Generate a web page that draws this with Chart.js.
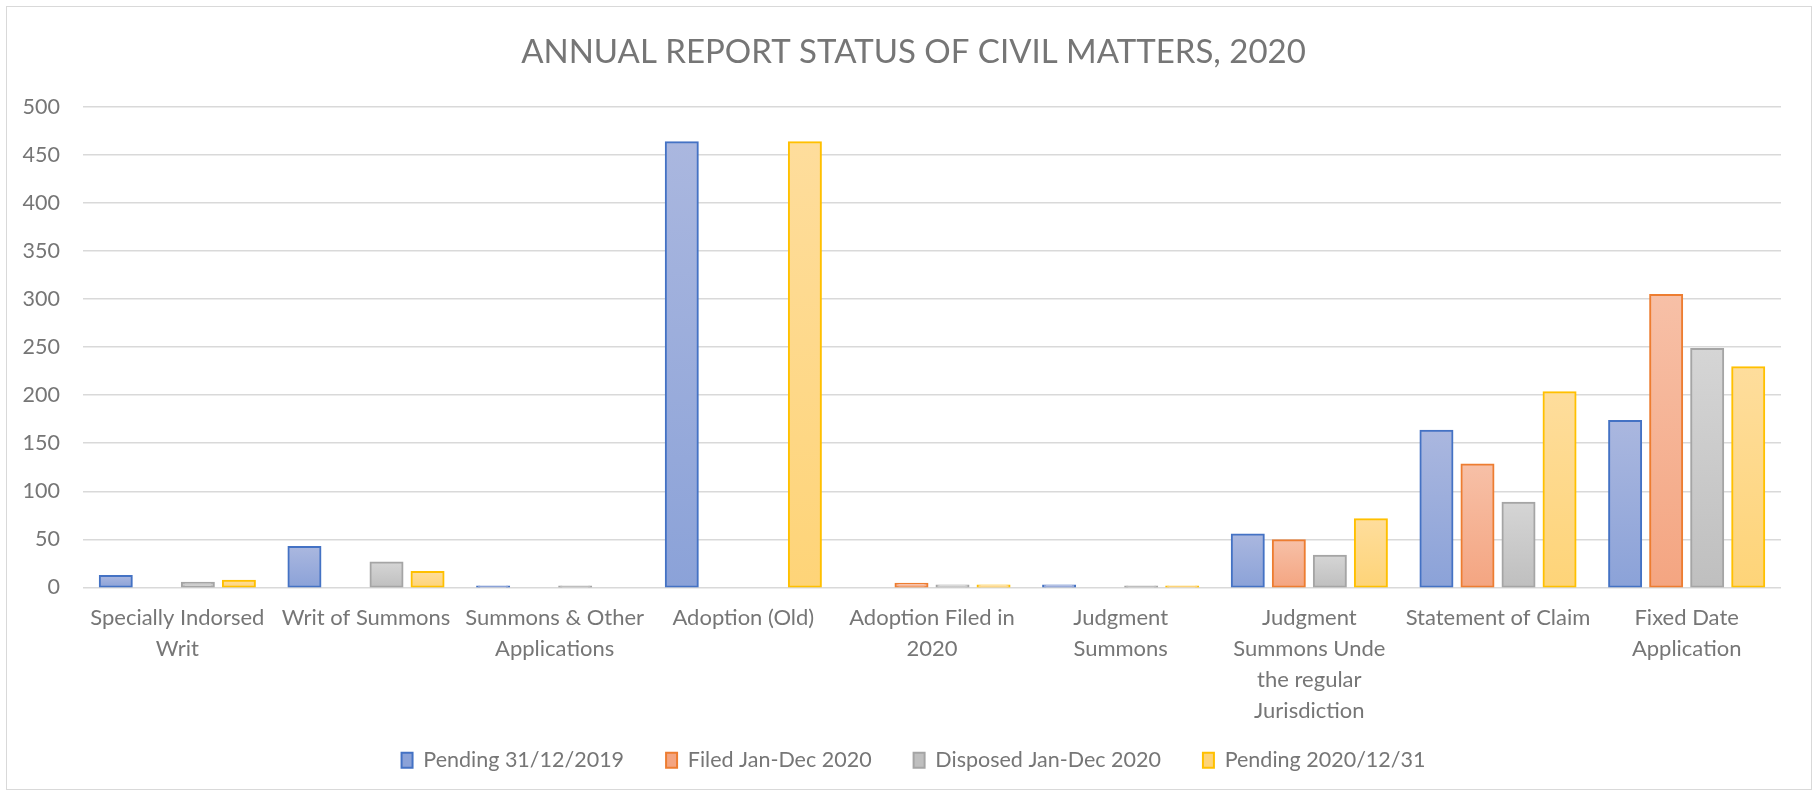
<!DOCTYPE html>
<html>
<head>
<meta charset="utf-8">
<script src="https://cdn.jsdelivr.net/npm/chart.js@4.4.1/dist/chart.umd.min.js"></script>
<style>
  html, body { margin: 0; padding: 0; background: #ffffff; }
  #wrap { position: relative; width: 1813px; height: 795px; }
  #frame { position: absolute; left: 6px; top: 6px; width: 1804px; height: 782px; border: 1px solid #d9d9d9; pointer-events: none; }
  canvas { position: absolute; left: 0; top: 0; }
</style>
</head>
<body>
<div id="wrap">
  <canvas id="c" width="1813" height="795"></canvas>
  <div id="frame"></div>
</div>
<script>
const chartTitle = "ANNUAL REPORT STATUS OF CIVIL MATTERS, 2020";
const categories = [
  ["Specially Indorsed", "Writ"],
  ["Writ of Summons"],
  ["Summons & Other", "Applications"],
  ["Adoption (Old)"],
  ["Adoption Filed in", "2020"],
  ["Judgment", "Summons"],
  ["Judgment", "Summons Unde", "the regular", "Jurisdiction"],
  ["Statement of Claim"],
  ["Fixed Date", "Application"]
];
const seriesNames = ["Pending 31/12/2019", "Filed Jan-Dec 2020", "Disposed Jan-Dec 2020", "Pending 2020/12/31"];
const pending2019 = [12, 42, 1, 463, 0, 2, 55, 163, 173];
const filed2020   = [0, 0, 0, 0, 4, 0, 49, 128, 304];
const disposed2020 = [5, 26, 1, 0, 2, 1, 33, 88, 248];
const pending2020 = [7, 16, 0, 463, 2, 1, 71, 203, 229];
const yTicks = [0, 50, 100, 150, 200, 250, 300, 350, 400, 450, 500];

const TEXT = '#767676';
const FONT = 'Lato, "Open Sans", "DejaVu Sans", sans-serif';

function grad(top, bottom, mid) {
  return (ctx) => {
    const chart = ctx.chart;
    if (!chart.chartArea || ctx.type !== 'data' || ctx.raw === undefined) return mid;
    const y = chart.scales.y;
    const y0 = y.getPixelForValue(0);
    const y1 = y.getPixelForValue(ctx.raw);
    if (Math.abs(y0 - y1) < 1) return bottom;
    const g = chart.ctx.createLinearGradient(0, y1, 0, y0);
    g.addColorStop(0, top);
    g.addColorStop(1, bottom);
    return g;
  };
}

const styles = [
  { fill: grad('#aab7df', '#8ba2d8', '#9aadde'), border: '#4472c4' },
  { fill: grad('#f7c0a7', '#f4a581', '#f5b291'), border: '#ed7d31' },
  { fill: grad('#d5d5d5', '#bfbfbf', '#c9c9c9'), border: '#a5a5a5' },
  { fill: grad('#fedd9c', '#fed478', '#fed98b'), border: '#ffc000' }
];
const seriesData = [pending2019, filed2020, disposed2020, pending2020];

const datasets = seriesNames.map((name, i) => ({
  label: name,
  data: seriesData[i],
  backgroundColor: styles[i].fill,
  borderColor: styles[i].border,
  borderWidth: 2,
  borderSkipped: false,
  inflateAmount: (ctx) => (ctx.raw ? 1 : 0),
  categoryPercentage: 0.87,
  barPercentage: 0.78
}));

// give the axis labels room to draw outside their axis boxes
const labelRoom = {
  id: 'labelRoom',
  afterLayout(chart) {
    chart.scales.x.bottom += 40;
    chart.scales.y.left = 0;
  }
};

new Chart(document.getElementById('c'), {
  type: 'bar',
  data: { labels: categories, datasets },
  plugins: [labelRoom],
  options: {
    responsive: false,
    animation: false,
    devicePixelRatio: 1,
    layout: { padding: { left: 46, right: 32, top: 0, bottom: 14 } },
    plugins: {
      title: {
        display: true,
        text: chartTitle,
        color: TEXT,
        font: { family: FONT, size: 33, weight: 'normal', lineHeight: 1.2 },
        padding: { top: 33, bottom: 34 }
      },
      legend: {
        position: 'bottom',
        labels: {
          color: TEXT,
          font: { family: FONT, size: 21.5 },
          boxWidth: 11,
          boxHeight: 15,
          padding: 42
        }
      },
      tooltip: { enabled: false }
    },
    scales: {
      x: {
        grid: { display: false, drawTicks: false },
        border: { display: false },
        ticks: {
          color: TEXT,
          font: { family: FONT, size: 22, lineHeight: 1.41 },
          padding: 15,
          autoSkip: false,
          maxRotation: 0,
          minRotation: 0
        },
        afterFit: (s) => { s.height = 120; }
      },
      y: {
        min: 0,
        max: 500,
        afterBuildTicks: (s) => { s.ticks = yTicks.map(v => ({ value: v })); },
        grid: { color: '#d9d9d9', lineWidth: 1.5, drawTicks: false },
        border: { display: false },
        ticks: {
          color: TEXT,
          font: { family: FONT, size: 21.5 },
          padding: 23
        },
        afterFit: (s) => { s.width = 37; }
      }
    }
  }
});
</script>
</body>
</html>
